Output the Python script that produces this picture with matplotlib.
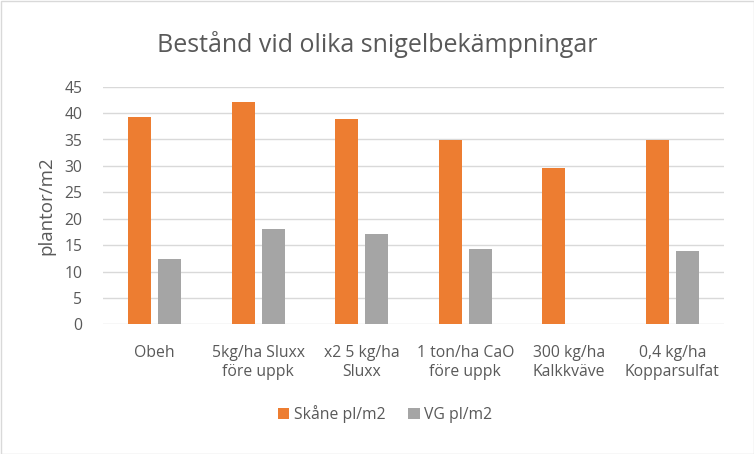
import numpy as np
import matplotlib
matplotlib.use("Agg")
from matplotlib import pyplot as plt
from matplotlib.patches import Rectangle

categories = ["Obeh", "5kg/ha Sluxx\nföre uppk", "x2 5 kg/ha\nSluxx", "1 ton/ha CaO\nföre uppk",
              "300 kg/ha\nKalkkväve", "0,4 kg/ha\nKopparsulfat"]
skane = [39.3, 42.1, 38.9, 34.9, 29.6, 34.9]
vg = [12.4, 18.0, 17.1, 14.2, 0, 13.9]
series_names = ["Skåne pl/m2", "VG pl/m2"]

plt.rcParams['font.family'] = ['Open Sans', 'DejaVu Sans']
txt = '#595959'

fig = plt.figure(figsize=(7.54, 4.54), dpi=100)
ax = fig.add_axes([103/754, 1-324.3/454, 621/754, 237.6/454])

x = np.arange(len(categories))
ax.bar(x - 0.145, skane, 0.22, color='#ED7D31', label=series_names[0], zorder=3)
ax.bar(x + 0.145, vg, 0.22, color='#A5A5A5', label=series_names[1], zorder=3)

ax.set_xlim(-0.5, len(categories) - 0.5)
ax.set_ylim(0, 45)
ax.set_yticks(range(0, 46, 5))
ax.set_xticks(x)
ax.set_xticklabels(categories, fontsize=11.3, color=txt, linespacing=1.2)
ax.tick_params(axis='y', labelsize=11.3, labelcolor=txt, length=0, pad=15)
ax.tick_params(axis='x', length=0, pad=15)
ax.grid(axis='y', color='#D9D9D9', linewidth=1, zorder=0)
for s in ax.spines.values():
    s.set_visible(False)
ax.set_ylabel("plantor/m2", fontsize=13.5, color=txt, labelpad=6)

fig.text(0.5, 1-45/454, "Bestånd vid olika snigelbekämpningar", ha='center', va='center',
         fontsize=18, color=txt)
fig.legend(loc='center', bbox_to_anchor=(385/754, 1-414/454), ncol=2, frameon=False,
           fontsize=11.3, labelcolor=txt, handlelength=0.75, handleheight=0.75,
           handletextpad=0.3, columnspacing=1.4)

fig.patches.append(Rectangle((0.5/754, 0.5/454), 753/754, 453/454, transform=fig.transFigure,
                             fill=False, edgecolor='#D9D9D9', linewidth=1))

fig.savefig("out.png", dpi=100)
